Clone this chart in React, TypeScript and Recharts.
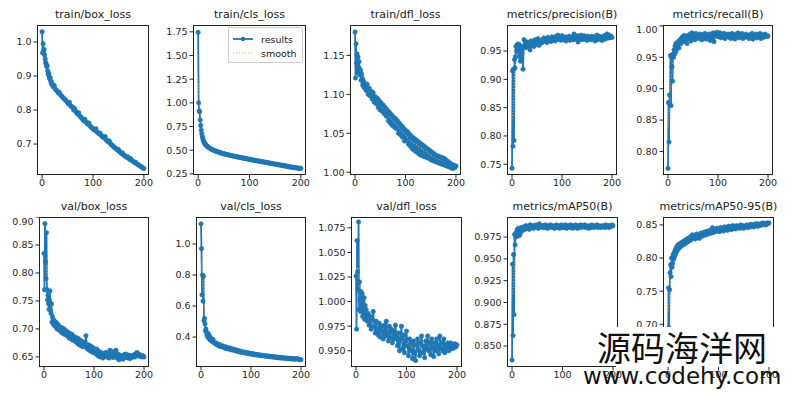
import { LineChart, Line, XAxis, YAxis } from "recharts";

const EPOCHS = [
  0, 1, 2, 3, 4, 5, 6, 7, 8, 9, 10, 11, 12, 13, 14, 15, 16, 17, 18, 19, 20,
  22, 24, 26, 28, 30, 32, 34, 36, 38, 40,
  42, 44, 46, 48, 50, 52, 54, 56, 58, 60,
  62, 64, 66, 68, 70, 72, 74, 76, 78, 80,
  82, 84, 86, 88, 90, 92, 94, 96, 98, 100,
  102, 104, 106, 108, 110, 112, 114, 116, 118, 120,
  122, 124, 126, 128, 130, 132, 134, 136, 138, 140,
  142, 144, 146, 148, 150, 152, 154, 156, 158, 160,
  162, 164, 166, 168, 170, 172, 174, 176, 178, 180,
  182, 184, 186, 188, 190, 192, 194, 196, 198, 200,
];

const SMOOTH_EPOCHS = [0, 3, 6, 10, 15, 20, 30, 40, 50, 60, 70, 80, 90, 100, 110, 120, 130, 140, 150, 160, 170, 180, 190, 200];

const TRAIN_BOX = [
  1.030, 0.968, 0.995, 0.972, 0.978, 0.962, 0.950, 0.940, 0.935, 0.928, 0.930, 0.915, 0.905, 0.908, 0.898, 0.892, 0.895, 0.885, 0.878, 0.882, 0.874,
  0.868, 0.872, 0.862, 0.858, 0.855, 0.850, 0.852, 0.845, 0.842, 0.838,
  0.835, 0.832, 0.830, 0.826, 0.822, 0.818, 0.822, 0.812, 0.810, 0.808,
  0.800, 0.805, 0.796, 0.792, 0.788, 0.792, 0.782, 0.780, 0.776, 0.772,
  0.768, 0.773, 0.765, 0.762, 0.758, 0.762, 0.754, 0.750, 0.748, 0.745,
  0.742, 0.740, 0.745, 0.735, 0.733, 0.730, 0.732, 0.726, 0.722, 0.720,
  0.718, 0.722, 0.712, 0.710, 0.706, 0.709, 0.702, 0.698, 0.696, 0.693,
  0.690, 0.688, 0.686, 0.682, 0.684, 0.678, 0.676, 0.672, 0.674, 0.668,
  0.666, 0.664, 0.661, 0.663, 0.658, 0.655, 0.657, 0.652, 0.650, 0.648,
  0.645, 0.646, 0.642, 0.640, 0.638, 0.636, 0.634, 0.632, 0.630, 0.628,
];
const TRAIN_BOX_SMOOTH = [0.99, 0.975, 0.955, 0.925, 0.897, 0.878, 0.85, 0.833, 0.816, 0.8, 0.786, 0.771, 0.758, 0.745, 0.733, 0.72, 0.708, 0.694, 0.684, 0.671, 0.66, 0.65, 0.638, 0.63];

const TRAIN_CLS = [
  1.745, 1.000, 0.915, 0.905, 0.820, 0.760, 0.712, 0.675, 0.648, 0.625, 0.605, 0.592, 0.580, 0.570, 0.562, 0.556, 0.550, 0.545, 0.540, 0.535, 0.530,
  0.522, 0.516, 0.510, 0.505, 0.500, 0.495, 0.491, 0.487, 0.483, 0.479,
  0.476, 0.472, 0.469, 0.466, 0.463, 0.460, 0.457, 0.454, 0.451, 0.449,
  0.446, 0.444, 0.441, 0.439, 0.436, 0.434, 0.432, 0.430, 0.427, 0.425,
  0.423, 0.421, 0.419, 0.416, 0.414, 0.412, 0.410, 0.408, 0.406, 0.404,
  0.402, 0.399, 0.397, 0.395, 0.393, 0.391, 0.389, 0.387, 0.385, 0.383,
  0.381, 0.379, 0.377, 0.375, 0.373, 0.371, 0.369, 0.367, 0.365, 0.363,
  0.361, 0.359, 0.357, 0.355, 0.353, 0.351, 0.349, 0.347, 0.345, 0.343,
  0.341, 0.339, 0.337, 0.335, 0.333, 0.331, 0.329, 0.327, 0.325, 0.323,
  0.321, 0.319, 0.318, 0.316, 0.314, 0.313, 0.311, 0.310, 0.309, 0.308,
];
const TRAIN_CLS_SMOOTH = [1.2, 1.02, 0.78, 0.62, 0.565, 0.532, 0.492, 0.474, 0.456, 0.442, 0.43, 0.419, 0.409, 0.399, 0.389, 0.378, 0.369, 0.359, 0.349, 0.34, 0.331, 0.323, 0.314, 0.309];

const TRAIN_DFL = [
  1.180, 1.121, 1.165, 1.140, 1.152, 1.128, 1.148, 1.135, 1.142, 1.125, 1.132, 1.130, 1.118, 1.126, 1.121, 1.112, 1.118, 1.110, 1.115, 1.108, 1.112,
  1.105, 1.113, 1.100, 1.108, 1.098, 1.104, 1.094, 1.102, 1.090, 1.097,
  1.088, 1.095, 1.083, 1.092, 1.080, 1.089, 1.078, 1.086, 1.075, 1.083,
  1.072, 1.080, 1.066, 1.077, 1.063, 1.074, 1.060, 1.071, 1.058, 1.069,
  1.056, 1.066, 1.050, 1.063, 1.048, 1.060, 1.045, 1.057, 1.040, 1.054,
  1.041, 1.052, 1.036, 1.049, 1.033, 1.046, 1.030, 1.044, 1.028, 1.042,
  1.026, 1.040, 1.024, 1.038, 1.022, 1.036, 1.021, 1.034, 1.020, 1.032,
  1.019, 1.030, 1.018, 1.028, 1.016, 1.026, 1.015, 1.024, 1.014, 1.022,
  1.013, 1.021, 1.012, 1.020, 1.011, 1.019, 1.010, 1.018, 1.009, 1.016,
  1.008, 1.014, 1.007, 1.012, 1.006, 1.010, 1.005, 1.009, 1.006, 1.008,
];
const TRAIN_DFL_SMOOTH = [1.155, 1.15, 1.142, 1.13, 1.122, 1.112, 1.101, 1.093, 1.086, 1.077, 1.07, 1.063, 1.056, 1.048, 1.04, 1.036, 1.031, 1.027, 1.022, 1.018, 1.015, 1.012, 1.009, 1.007];

const PRECISION = [
  0.743, 0.915, 0.782, 0.918, 0.792, 0.935, 0.920, 0.940, 0.958, 0.950, 0.960, 0.962, 0.955, 0.948, 0.962, 0.940, 0.952, 0.932, 0.945, 0.950, 0.958,
  0.918, 0.970, 0.962, 0.956, 0.966, 0.958, 0.964, 0.952, 0.968, 0.960,
  0.965, 0.958, 0.970, 0.962, 0.966, 0.972, 0.960, 0.968, 0.964, 0.970,
  0.966, 0.973, 0.968, 0.971, 0.965, 0.974, 0.969, 0.972, 0.967, 0.975,
  0.970, 0.973, 0.968, 0.976, 0.970, 0.978, 0.972, 0.975, 0.969, 0.977,
  0.972, 0.970, 0.975, 0.968, 0.974, 0.971, 0.976, 0.969, 0.973, 0.975,
  0.970, 0.980, 0.974, 0.971, 0.977, 0.966, 0.975, 0.972, 0.978, 0.970,
  0.974, 0.977, 0.971, 0.975, 0.969, 0.976, 0.972, 0.974, 0.970, 0.976,
  0.971, 0.975, 0.968, 0.974, 0.978, 0.970, 0.976, 0.972, 0.975, 0.969,
  0.974, 0.977, 0.971, 0.975, 0.980, 0.973, 0.978, 0.974, 0.976, 0.974,
];
const PRECISION_SMOOTH = [0.83, 0.85, 0.915, 0.95, 0.948, 0.948, 0.962, 0.964, 0.966, 0.968, 0.97, 0.971, 0.973, 0.974, 0.972, 0.973, 0.974, 0.973, 0.973, 0.973, 0.973, 0.974, 0.975, 0.975];

const RECALL = [
  0.773, 0.878, 0.815, 0.890, 0.875, 0.953, 0.873, 0.950, 0.935, 0.912, 0.955, 0.950, 0.962, 0.955, 0.968, 0.958, 0.972, 0.962, 0.970, 0.966, 0.975,
  0.965, 0.978, 0.972, 0.982, 0.975, 0.985, 0.978, 0.983, 0.972, 0.985,
  0.980, 0.987, 0.976, 0.989, 0.982, 0.986, 0.978, 0.988, 0.983, 0.985,
  0.980, 0.987, 0.983, 0.978, 0.986, 0.982, 0.988, 0.979, 0.985, 0.983,
  0.987, 0.977, 0.986, 0.982, 0.989, 0.975, 0.988, 0.984, 0.990, 0.983,
  0.986, 0.989, 0.981, 0.987, 0.984, 0.988, 0.980, 0.986, 0.983, 0.987,
  0.982, 0.986, 0.980, 0.988, 0.983, 0.985, 0.979, 0.987, 0.984, 0.989,
  0.981, 0.986, 0.983, 0.988, 0.980, 0.985, 0.982, 0.987, 0.983, 0.985,
  0.980, 0.986, 0.984, 0.988, 0.979, 0.985, 0.983, 0.987, 0.981, 0.986,
  0.983, 0.988, 0.980, 0.986, 0.984, 0.982, 0.987, 0.985, 0.983, 0.984,
];
const RECALL_SMOOTH = [0.84, 0.87, 0.91, 0.94, 0.96, 0.967, 0.978, 0.982, 0.983, 0.984, 0.983, 0.984, 0.984, 0.985, 0.985, 0.985, 0.984, 0.985, 0.985, 0.984, 0.984, 0.984, 0.985, 0.984];

const VAL_BOX = [
  0.835, 0.770, 0.888, 0.820, 0.790, 0.872, 0.770, 0.752, 0.760, 0.745, 0.735, 0.752, 0.768, 0.733, 0.728, 0.745, 0.712, 0.722, 0.718, 0.708, 0.715,
  0.705, 0.712, 0.700, 0.708, 0.698, 0.704, 0.695, 0.702, 0.692, 0.700,
  0.690, 0.697, 0.688, 0.694, 0.684, 0.692, 0.682, 0.690, 0.680, 0.686,
  0.678, 0.685, 0.675, 0.683, 0.672, 0.680, 0.670, 0.678, 0.668, 0.675,
  0.670, 0.688, 0.665, 0.672, 0.662, 0.670, 0.660, 0.668, 0.658, 0.665,
  0.662, 0.655, 0.664, 0.652, 0.660, 0.650, 0.658, 0.655, 0.648, 0.656,
  0.652, 0.658, 0.650, 0.655, 0.648, 0.662, 0.651, 0.656, 0.649, 0.660,
  0.652, 0.662, 0.648, 0.655, 0.645, 0.653, 0.647, 0.650, 0.646, 0.654,
  0.649, 0.655, 0.650, 0.648, 0.653, 0.647, 0.652, 0.649, 0.651, 0.654,
  0.650, 0.656, 0.658, 0.652, 0.655, 0.651, 0.653, 0.650, 0.652, 0.650,
];
const VAL_BOX_SMOOTH = [0.82, 0.82, 0.795, 0.76, 0.735, 0.72, 0.703, 0.695, 0.688, 0.682, 0.676, 0.673, 0.667, 0.663, 0.658, 0.655, 0.654, 0.653, 0.652, 0.651, 0.651, 0.652, 0.653, 0.652];

const VAL_CLS = [
  1.130, 0.970, 0.672, 0.800, 0.632, 0.792, 0.505, 0.520, 0.485, 0.440, 0.452, 0.430, 0.412, 0.425, 0.398, 0.420, 0.392, 0.405, 0.382, 0.395, 0.378,
  0.372, 0.385, 0.365, 0.358, 0.362, 0.350, 0.355, 0.342, 0.350, 0.338,
  0.345, 0.335, 0.340, 0.328, 0.336, 0.325, 0.332, 0.322, 0.330, 0.318,
  0.325, 0.316, 0.320, 0.312, 0.318, 0.308, 0.314, 0.305, 0.310, 0.302,
  0.306, 0.300, 0.304, 0.297, 0.301, 0.295, 0.299, 0.292, 0.296, 0.290,
  0.294, 0.288, 0.291, 0.286, 0.289, 0.284, 0.287, 0.282, 0.285, 0.280,
  0.283, 0.279, 0.281, 0.277, 0.280, 0.275, 0.278, 0.274, 0.276, 0.272,
  0.275, 0.271, 0.273, 0.269, 0.272, 0.268, 0.270, 0.266, 0.269, 0.265,
  0.268, 0.264, 0.266, 0.263, 0.265, 0.261, 0.264, 0.260, 0.263, 0.259,
  0.262, 0.258, 0.261, 0.257, 0.260, 0.262, 0.258, 0.256, 0.255, 0.254,
];
const VAL_CLS_SMOOTH = [0.9, 0.78, 0.64, 0.48, 0.42, 0.395, 0.358, 0.342, 0.33, 0.32, 0.31, 0.302, 0.296, 0.291, 0.286, 0.282, 0.278, 0.275, 0.271, 0.268, 0.265, 0.262, 0.259, 0.256];

const VAL_DFL = [
  1.026, 0.972, 1.062, 1.030, 1.012, 1.081, 0.992, 1.020, 1.002, 0.990, 1.010, 0.995, 1.008, 0.985, 1.000, 0.988, 1.004, 0.982, 0.996, 0.985, 0.992,
  0.980, 0.988, 0.976, 0.985, 0.972, 0.982, 0.990, 0.975, 0.968, 0.980,
  0.972, 0.966, 0.978, 0.964, 0.975, 0.970, 0.962, 0.976, 0.965, 0.980,
  0.968, 0.960, 0.975, 0.963, 0.972, 0.958, 0.970, 0.962, 0.976, 0.965,
  0.955, 0.968, 0.950, 0.962, 0.975, 0.952, 0.966, 0.948, 0.960, 0.970,
  0.955, 0.945, 0.962, 0.950, 0.958, 0.942, 0.960, 0.948, 0.940, 0.956,
  0.962, 0.950, 0.945, 0.958, 0.965, 0.948, 0.955, 0.943, 0.960, 0.952,
  0.965, 0.950, 0.958, 0.946, 0.962, 0.953, 0.944, 0.958, 0.950, 0.962,
  0.955, 0.947, 0.965, 0.952, 0.958, 0.950, 0.962, 0.948, 0.956, 0.952,
  0.958, 0.950, 0.955, 0.958, 0.952, 0.956, 0.953, 0.957, 0.954, 0.956,
];
const VAL_DFL_SMOOTH = [1.03, 1.035, 1.02, 1.0, 0.996, 0.989, 0.98, 0.974, 0.97, 0.968, 0.966, 0.963, 0.96, 0.958, 0.954, 0.952, 0.953, 0.954, 0.955, 0.955, 0.955, 0.955, 0.955, 0.955];

const MAP50 = [
  0.834, 0.944, 0.862, 0.955, 0.886, 0.978, 0.966, 0.975, 0.980, 0.977, 0.983, 0.976, 0.985, 0.979, 0.982, 0.977, 0.984, 0.980, 0.986, 0.982, 0.985,
  0.983, 0.987, 0.984, 0.988, 0.985, 0.987, 0.984, 0.989, 0.986, 0.988,
  0.985, 0.988, 0.986, 0.989, 0.987, 0.985, 0.990, 0.987, 0.988, 0.986,
  0.988, 0.986, 0.989, 0.987, 0.985, 0.988, 0.986, 0.989, 0.987, 0.986,
  0.988, 0.985, 0.987, 0.989, 0.986, 0.988, 0.985, 0.987, 0.989, 0.986,
  0.988, 0.986, 0.989, 0.985, 0.987, 0.988, 0.986, 0.989, 0.987, 0.985,
  0.988, 0.986, 0.989, 0.987, 0.985, 0.988, 0.987, 0.989, 0.986, 0.988,
  0.987, 0.989, 0.986, 0.988, 0.987, 0.985, 0.988, 0.986, 0.989, 0.987,
  0.986, 0.988, 0.987, 0.989, 0.986, 0.988, 0.987, 0.986, 0.988, 0.987,
  0.988, 0.986, 0.989, 0.987, 0.988, 0.986, 0.988, 0.987, 0.989, 0.988,
];
const MAP50_SMOOTH = [0.91, 0.92, 0.955, 0.978, 0.98, 0.983, 0.986, 0.987, 0.987, 0.987, 0.987, 0.987, 0.987, 0.987, 0.987, 0.987, 0.987, 0.987, 0.987, 0.987, 0.987, 0.987, 0.987, 0.988];

const MAP50_95 = [
  0.646, 0.755, 0.695, 0.752, 0.778, 0.790, 0.772, 0.800, 0.786, 0.792, 0.805, 0.798, 0.808, 0.802, 0.812, 0.806, 0.815, 0.810, 0.818, 0.813, 0.820,
  0.815, 0.822, 0.818, 0.824, 0.820, 0.826, 0.822, 0.828, 0.824, 0.830,
  0.826, 0.832, 0.828, 0.835, 0.830, 0.833, 0.829, 0.836, 0.831, 0.834,
  0.830, 0.837, 0.833, 0.838, 0.834, 0.839, 0.835, 0.840, 0.836, 0.841,
  0.837, 0.842, 0.838, 0.846, 0.839, 0.843, 0.840, 0.845, 0.841, 0.844,
  0.840, 0.846, 0.842, 0.845, 0.841, 0.847, 0.843, 0.846, 0.842, 0.848,
  0.844, 0.847, 0.843, 0.849, 0.845, 0.848, 0.844, 0.849, 0.846, 0.848,
  0.845, 0.850, 0.846, 0.849, 0.845, 0.848, 0.847, 0.850, 0.846, 0.849,
  0.847, 0.851, 0.848, 0.850, 0.847, 0.851, 0.849, 0.852, 0.848, 0.851,
  0.849, 0.852, 0.850, 0.853, 0.851, 0.852, 0.850, 0.853, 0.852, 0.853,
];
const MAP50_95_SMOOTH = [0.72, 0.74, 0.78, 0.8, 0.808, 0.815, 0.823, 0.829, 0.832, 0.835, 0.837, 0.839, 0.841, 0.842, 0.844, 0.845, 0.846, 0.847, 0.847, 0.848, 0.849, 0.85, 0.851, 0.852];

const X_TICKS = [0, 100, 200];

const FONT = "'DejaVu Sans', sans-serif";
const BLUE = "#1f77b4";
const ORANGE = "#ff9f4a";
const Y_W = 44;
const X_H = 20;
const R_PAD = 14;

const PANELS = [
  { title: "train/box_loss", res: TRAIN_BOX, sm: TRAIN_BOX_SMOOTH, left: 37, top: 25, width: 112, domain: [0.609, 1.05], ticks: [0.7, 0.8, 0.9, 1.0], digits: 1 },
  { title: "train/cls_loss", res: TRAIN_CLS, sm: TRAIN_CLS_SMOOTH, left: 193, top: 25, width: 113, domain: [0.238, 1.822], ticks: [0.25, 0.5, 0.75, 1.0, 1.25, 1.5, 1.75], digits: 2, legend: true },
  { title: "train/dfl_loss", res: TRAIN_DFL, sm: TRAIN_DFL_SMOOTH, left: 350, top: 25, width: 111, domain: [0.9965, 1.189], ticks: [1.0, 1.05, 1.1, 1.15], digits: 2 },
  { title: "metrics/precision(B)", res: PRECISION, sm: PRECISION_SMOOTH, left: 507, top: 25, width: 110, domain: [0.731, 0.996], ticks: [0.75, 0.8, 0.85, 0.9, 0.95], digits: 2 },
  { title: "metrics/recall(B)", res: RECALL, sm: RECALL_SMOOTH, left: 663, top: 25, width: 110, domain: [0.7625, 1.0015], ticks: [0.8, 0.85, 0.9, 0.95, 1.0], digits: 2 },
  { title: "val/box_loss", res: VAL_BOX, sm: VAL_BOX_SMOOTH, left: 39, top: 217, width: 110, domain: [0.632, 0.9], ticks: [0.65, 0.7, 0.75, 0.8, 0.85, 0.9], digits: 2 },
  { title: "val/cls_loss", res: VAL_CLS, sm: VAL_CLS_SMOOTH, left: 196, top: 217, width: 110, domain: [0.207, 1.174], ticks: [0.4, 0.6, 0.8, 1.0], digits: 1 },
  { title: "val/dfl_loss", res: VAL_DFL, sm: VAL_DFL_SMOOTH, left: 351, top: 217, width: 111, domain: [0.9335, 1.086], ticks: [0.95, 0.975, 1.0, 1.025, 1.05, 1.075], digits: 3 },
  { title: "metrics/mAP50(B)", res: MAP50, sm: MAP50_SMOOTH, left: 507, top: 217, width: 111, domain: [0.826, 0.998], ticks: [0.85, 0.875, 0.9, 0.925, 0.95, 0.975], digits: 3 },
  { title: "metrics/mAP50-95(B)", res: MAP50_95, sm: MAP50_95_SMOOTH, left: 663, top: 217, width: 111, domain: [0.6355, 0.862], ticks: [0.7, 0.75, 0.8, 0.85], digits: 2 },
];

const PLOT_H = 150;

function Panel({ p }: { p: (typeof PANELS)[number] }) {
  const data = EPOCHS.map((epoch, i) => ({ epoch, v: p.res[i] }));
  const smooth = SMOOTH_EPOCHS.map((epoch, i) => ({ epoch, s: p.sm[i] }));
  const tick = { fontSize: 9.5, fill: "#262626", fontFamily: FONT };
  return (
    <>
      <div
        style={{
          position: "absolute",
          left: p.left - 20,
          top: p.top - 17,
          width: p.width + 40,
          textAlign: "center",
          fontSize: 11,
          fontFamily: FONT,
          color: "#222",
          whiteSpace: "nowrap",
        }}
      >
        {p.title}
      </div>
      <div style={{ position: "absolute", left: p.left - Y_W, top: p.top }}>
        <LineChart
          width={p.width + Y_W + R_PAD}
          height={PLOT_H + X_H}
          margin={{ top: 0, right: R_PAD, bottom: 0, left: 0 }}
        >
          <XAxis
            dataKey="epoch"
            type="number"
            domain={[-10, 210]}
            ticks={X_TICKS}
            axisLine={false}
            tickSize={3.5}
            tickMargin={1}
            height={X_H}
            tick={tick}
            tickLine={{ stroke: "#222" }}
            allowDataOverflow
          />
          <YAxis
            type="number"
            domain={p.domain}
            ticks={p.ticks}
            axisLine={false}
            tickSize={3.5}
            tickMargin={2}
            width={Y_W}
            tick={tick}
            tickLine={{ stroke: "#222" }}
            tickFormatter={(v: number) => v.toFixed(p.digits)}
            allowDataOverflow
          />
          <Line
            data={data}
            dataKey="v"
            type="linear"
            stroke={BLUE}
            strokeWidth={1.8}
            dot={{ r: 2.2, fill: BLUE, stroke: BLUE, strokeWidth: 0.6 }}
            isAnimationActive={false}
          />
          <Line
            data={smooth}
            dataKey="s"
            type="monotone"
            stroke={ORANGE}
            strokeWidth={1.2}
            strokeDasharray="1 2"
            dot={false}
            isAnimationActive={false}
          />
        </LineChart>
      </div>
      <div
        style={{
          position: "absolute",
          left: p.left,
          top: p.top,
          width: p.width,
          height: PLOT_H,
          border: "1px solid #222",
          boxSizing: "border-box",
          pointerEvents: "none",
        }}
      />
      {p.legend && (
        <div
          style={{
            position: "absolute",
            left: p.left + p.width - 78,
            top: p.top + 2,
            width: 75,
            height: 36,
            border: "1px solid #ccc",
            borderRadius: 2,
            background: "rgba(255,255,255,0.85)",
            boxSizing: "border-box",
          }}
        >
          <svg width={75} height={36} style={{ position: "absolute", left: 0, top: 0 }}>
            <line x1={4} y1={11} x2={24} y2={11} stroke={BLUE} strokeWidth={1.8} />
            <circle cx={14} cy={11} r={2.2} fill={BLUE} />
            <line x1={4} y1={25} x2={24} y2={25} stroke={ORANGE} strokeWidth={1.2} strokeDasharray="1 2" />
            <text x={32} y={14.5} fontSize={9.5} fontFamily={FONT} fill="#222">results</text>
            <text x={32} y={28.5} fontSize={9.5} fontFamily={FONT} fill="#222">smooth</text>
          </svg>
        </div>
      )}
    </>
  );
}

export default function App() {
  return (
    <div
      style={{
        position: "absolute",
        left: 0,
        top: 0,
        width: 790,
        height: 394,
        background: "#fff",
        overflow: "hidden",
      }}
    >
      {PANELS.map((p) => (
        <Panel key={p.title} p={p} />
      ))}
      <div
        style={{
          position: "absolute",
          left: 616,
          top: 327,
          width: 174,
          height: 40,
          background: "#fff",
        }}
      />
      <div
        style={{
          position: "absolute",
          left: 597,
          top: 327,
          fontSize: 34,
          lineHeight: "40px",
          fontFamily: "'Noto Sans CJK SC', sans-serif",
          color: "#111",
          whiteSpace: "nowrap",
        }}
      >
        源码海洋网
      </div>
      <div
        style={{
          position: "absolute",
          left: 583,
          top: 362,
          fontSize: 23,
          lineHeight: "28px",
          fontFamily: FONT,
          color: "#111",
          whiteSpace: "nowrap",
        }}
      >
        www.codehy.com
      </div>
    </div>
  );
}
